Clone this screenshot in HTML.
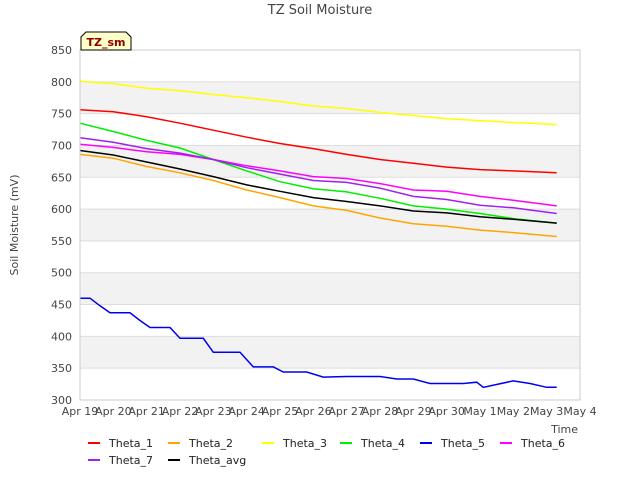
<!DOCTYPE html>
<html><head><meta charset="utf-8"><style>
body{margin:0;background:#fff;font-family:"Liberation Sans","DejaVu Sans",sans-serif;}
svg text{font-family:"DejaVu Sans","Liberation Sans",sans-serif;}
</style></head><body>
<svg id="c" width="640" height="480" xmlns="http://www.w3.org/2000/svg">
<text x="320" y="14" text-anchor="middle" font-size="13" fill="#444">TZ Soil Moisture</text>
<g id="bands"></g><g id="grid"></g><g id="series"></g><g id="axes"></g><g id="legend"></g>
<text x="18" y="225" text-anchor="middle" font-size="11" fill="#444" transform="rotate(-90 18 225)">Soil Moisture (mV)</text>
<text x="578" y="433" text-anchor="end" font-size="11" fill="#444">Time</text>
<g>
<path d="M81,50 L81,37 L86,32 L126,32 L131,37 L131,50 Z" fill="#ffffc8" stroke="#000" stroke-width="1"/>
<text x="106" y="46" text-anchor="middle" font-size="11" font-weight="bold" fill="#8b0000">TZ_sm</text>
</g>
</svg>
<script>
const xTicks=["Apr 19","Apr 20","Apr 21","Apr 22","Apr 23","Apr 24","Apr 25","Apr 26","Apr 27","Apr 28","Apr 29","Apr 30","May 1","May 2","May 3","May 4"];
const yTicks=[300,350,400,450,500,550,600,650,700,750,800,850];
const days=[0,1,2,3,4,5,6,7,8,9,10,11,12,13,14.3];
const names=["Theta_1","Theta_2","Theta_3","Theta_4","Theta_5","Theta_6","Theta_7","Theta_avg"];
const colors=["#ff0000","#ffa500","#ffff00","#00ee00","#0000ee","#ff00ff","#a020f0","#000000"];
const theta1=[756,753,745,735,724,713,703,695,686,678,672,666,662,660,657];
const theta2=[686,680,667,657,645,630,618,605,598,586,577,573,567,563,557];
const theta3=[801,797,790,786,780,775,769,762,758,752,747,742,739,736,733];
const theta4=[735,722,708,696,678,660,643,632,627,617,605,600,593,585,578];
const theta6=[702,697,690,686,678,668,660,651,648,640,630,628,620,614,605];
const theta7=[712,705,695,688,678,665,655,645,642,633,620,615,606,602,593];
const thetaAvg=[692,685,674,663,651,638,628,618,612,605,597,594,588,584,578];
const t5days=[0,0.3,0.6,0.9,1.5,1.8,2.1,2.7,3.0,3.7,4.0,4.8,5.2,5.8,6.1,6.8,7.3,8,9,9.5,10,10.5,11.5,11.9,12.1,13,13.5,14.0,14.3];
const theta5=[460,460,448,437,437,425,414,414,397,397,375,375,352,352,344,344,336,337,337,333,333,326,326,328,320,330,326,320,320];
const NS="http://www.w3.org/2000/svg";
const L=80,R=580,T=50,B=400;
const X=d=>L+(R-L)*d/15;
const Y=v=>B-(B-T)*(v-300)/550;
function mk(tag,attrs,parent){const e=document.createElementNS(NS,tag);for(const k in attrs)e.setAttribute(k,attrs[k]);document.getElementById(parent).appendChild(e);return e;}
for(let i=0;i<yTicks.length-1;i++){
 if(yTicks[i]%100===50){
  const r=mk('rect',{x:L,y:Y(yTicks[i+1]),width:R-L,height:Y(yTicks[i])-Y(yTicks[i+1]),fill:'#f2f2f2'},'bands');
  
  
 }
}
yTicks.forEach(v=>{
 const l=mk('line',{x1:L,x2:R,y1:Y(v),y2:Y(v),stroke:'#dddddd'},'grid');
 
 
 const t=mk('text',{x:L-8,y:Y(v)+4,'text-anchor':'end','font-size':'11',fill:'#444'},'axes');
 t.textContent=v;
 
 
});
xTicks.forEach((s,i)=>{
 const t=mk('text',{x:X(i),y:B+15,'text-anchor':'middle','font-size':'11',fill:'#444'},'axes');
 t.textContent=s;
 
 
});
const fr=mk('rect',{x:L,y:T,width:R-L,height:B-T,fill:'none',stroke:'#cccccc'},'axes');


const seriesData=[[days,theta1],[days,theta2],[days,theta3],[days,theta4],[t5days,theta5],[days,theta6],[days,theta7],[days,thetaAvg]];
seriesData.forEach((s,i)=>{
 const pts=s[0].map((d,j)=>X(d).toFixed(1)+','+Y(s[1][j]).toFixed(1)).join(' ');
 const p=mk('polyline',{points:pts,fill:'none',stroke:colors[i],'stroke-width':'1.5'},'series');
 
 
});
const legPos=[[88,443],[168,443],[262,443],[340,443],[420,443],[500,443],[88,460],[168,460]];
names.forEach((n,i)=>{
 const [x,y]=legPos[i];
 const g=mk('g',{},'legend');
 
 
 const l=document.createElementNS(NS,'line');
 l.setAttribute('x1',x);l.setAttribute('x2',x+12);l.setAttribute('y1',y);l.setAttribute('y2',y);
 l.setAttribute('stroke',colors[i]);l.setAttribute('stroke-width','2');
 g.appendChild(l);
 const t=document.createElementNS(NS,'text');
 t.setAttribute('x',x+21);t.setAttribute('y',y+4);t.setAttribute('font-size','11');t.setAttribute('fill','#222');
 t.textContent=n;g.appendChild(t);
});
</script>
</body></html>
